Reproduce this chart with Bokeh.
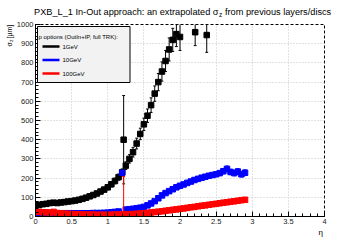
from bokeh.plotting import figure
from bokeh.models import Range1d, FixedTicker, Label, BoxAnnotation, PrintfTickFormatter
from bokeh.embed import file_html
from bokeh.resources import INLINE

# ---------------- data ----------------
series_names = ["1GeV", "10GeV", "100GeV"]
series_colors = ["#000000", "#0000ff", "#ff0000"]
legend_header = "p options (OutIn+IP, full TRK):"
title_left = "PXB_L_1 In-Out approach: an extrapolated σ"
title_sub = "z"
title_right = "from previous layers/discs"
x_title = "η"
y_title_main = "σ"
y_title_sub = "z"
y_title_unit = "[µm]"

x_ticks = [0, 0.5, 1, 1.5, 2, 2.5, 3, 3.5, 4]
y_ticks = [0, 100, 200, 300, 400, 500, 600, 700, 800, 900, 1000]

eta_1gev = [0.00, 0.05, 0.10, 0.15, 0.20, 0.25, 0.30, 0.35, 0.40, 0.45, 0.50, 0.55, 0.60,
            0.65, 0.70, 0.75, 0.80, 0.85, 0.90, 0.95, 1.00, 1.05, 1.10, 1.15, 1.20, 1.22,
            1.25, 1.30, 1.35, 1.40, 1.45, 1.50, 1.55, 1.60, 1.65, 1.70, 1.75, 1.80, 1.85,
            1.90, 1.95, 2.00, 2.21, 2.37]
sig_1gev = [62, 60, 64, 66, 70, 72, 70, 73, 75, 78, 80, 83, 87, 92, 98, 105, 112, 120, 130,
            140, 152, 168, 185, 205, 230, 400, 265, 300, 335, 380, 430, 480, 525, 580, 640,
            700, 755, 810, 870, 920, 950, 935, 960, 945]
err_1gev = [6, 6, 6, 6, 6, 6, 6, 6, 7, 7, 7, 8, 8, 8, 9, 9, 10, 10, 11, 12, 13, 14, 15, 16, 18,
            230, 20, 22, 25, 28, 30, 32, 35, 38, 40, 45, 50, 55, 60, 60, 65, 70, 70, 90]

eta_10gev = [0.00, 0.05, 0.10, 0.15, 0.20, 0.25, 0.30, 0.35, 0.40, 0.45, 0.50, 0.55, 0.60,
             0.65, 0.70, 0.75, 0.80, 0.85, 0.90, 0.95, 1.00, 1.05, 1.10, 1.15, 1.20, 1.25,
             1.30, 1.35, 1.40, 1.45, 1.50, 1.55, 1.60, 1.65, 1.70, 1.75, 1.80, 1.85, 1.90,
             1.95, 2.00, 2.05, 2.10, 2.15, 2.20, 2.25, 2.30, 2.35, 2.40, 2.45, 2.50, 2.55,
             2.60, 2.65, 2.70, 2.75, 2.80, 2.85, 2.90]
sig_10gev = [22, 20, 19, 18, 18, 17, 17, 17, 17, 17, 17, 17, 17, 17, 17, 17, 18, 18, 18, 19,
             20, 22, 24, 26, 228, 36, 38, 40, 43, 46, 50, 58, 68, 80, 95, 110, 122, 132, 142,
             152, 160, 167, 175, 182, 190, 196, 202, 207, 212, 216, 220, 226, 236, 248, 232,
             226, 234, 220, 228]
err_10gev = [3, 3, 3, 3, 3, 3, 3, 3, 3, 3, 3, 3, 3, 3, 3, 3, 3, 3, 3, 3, 4, 4, 4, 4, 8, 5, 5,
             5, 5, 6, 6, 6, 7, 7, 8, 8, 8, 8, 9, 9, 9, 10, 10, 10, 10, 11, 11, 11, 12, 12, 12,
             13, 14, 15, 14, 14, 15, 14, 15]

eta_100gev = [0.00, 0.05, 0.10, 0.15, 0.20, 0.25, 0.30, 0.35, 0.40, 0.45, 0.50, 0.55, 0.60,
              0.65, 0.70, 0.75, 0.80, 0.85, 0.90, 0.95, 1.00, 1.05, 1.10, 1.15, 1.20, 1.22,
              1.25, 1.30, 1.35, 1.40, 1.45, 1.50, 1.55, 1.60, 1.65, 1.70, 1.75, 1.80, 1.85,
              1.90, 1.95, 2.00, 2.05, 2.10, 2.15, 2.20, 2.25, 2.30, 2.35, 2.40, 2.45, 2.50,
              2.55, 2.60, 2.65, 2.70, 2.75, 2.80, 2.85, 2.90]
sig_100gev = [25, 24, 22, 22, 20, 24, 18, 17, 15, 14, 13, 12, 12, 11, 10, 10, 10, 9, 9, 9, 9,
              9, 10, 10, 10, 8, 11, 12, 13, 14, 15, 17, 19, 21, 23, 25, 27, 30, 32, 35, 37, 40,
              42, 45, 48, 50, 53, 56, 58, 61, 64, 66, 69, 72, 74, 77, 79, 82, 85, 87]
err_100gev = [3, 3, 3, 3, 3, 3, 3, 3, 3, 3, 3, 3, 3, 3, 3, 3, 3, 3, 3, 3, 3, 3, 3, 3, 3, 200,
              3, 3, 3, 3, 3, 3, 3, 3, 3, 3, 3, 3, 3, 3, 3, 3, 3, 3, 3, 3, 3, 3, 3, 3, 3, 3, 3,
              3, 3, 3, 3, 3, 3, 3]

all_eta = [eta_1gev, eta_10gev, eta_100gev]
all_sig = [sig_1gev, sig_10gev, sig_100gev]
all_err = [err_1gev, err_10gev, err_100gev]

# ---------------- figure ----------------
p = figure(width=360, height=240, x_range=Range1d(0, 4), y_range=Range1d(0, 1000),
           output_backend="svg", toolbar_location=None, title=None,
           min_border_left=35, min_border_right=36, min_border_top=24, min_border_bottom=24)
p.background_fill_color = "white"
p.border_fill_color = "white"
p.outline_line_color = "black"
p.outline_line_width = 1
p.outline_line_dash = "3 2"

p.xaxis.ticker = FixedTicker(ticks=x_ticks, minor_ticks=[i * 0.1 for i in range(41)])
p.yaxis.ticker = FixedTicker(ticks=y_ticks, minor_ticks=[i * 20 for i in range(51)])
p.xaxis.formatter = PrintfTickFormatter(format="%g")
p.yaxis.formatter = PrintfTickFormatter(format="%g")
for ax in (p.xaxis[0], p.yaxis[0]):
    ax.major_tick_in = 5
    ax.major_tick_out = 0
    ax.minor_tick_in = 3
    ax.minor_tick_out = 0
    ax.axis_line_color = "black"
    ax.major_tick_line_color = "black"
    ax.minor_tick_line_color = "black"
    ax.major_label_text_font = "Liberation Sans"
    ax.major_label_text_font_size = "7.5px"
    ax.major_label_text_color = "#222222"
    ax.major_label_standoff = 2

for g in (p.xgrid[0], p.ygrid[0]):
    g.grid_line_color = "#c4c4c4"
    g.grid_line_dash = "1 2"
    g.grid_line_width = 1

# ---------------- data glyphs ----------------
for eta, sig, err, col in zip(all_eta, all_sig, all_err, series_colors):
    lo = [s - e for s, e in zip(sig, err)]
    hi = [s + e for s, e in zip(sig, err)]
    p.segment(x0=eta, y0=lo, x1=eta, y1=hi, line_color=col, line_width=1)
    p.segment(x0=[x - 0.02 for x in eta], y0=hi, x1=[x + 0.02 for x in eta], y1=hi,
              line_color=col, line_width=1)
    p.segment(x0=[x - 0.02 for x in eta], y0=lo, x1=[x + 0.02 for x in eta], y1=lo,
              line_color=col, line_width=1)
    p.scatter(x=eta, y=sig, marker="square", size=5.5, fill_color=col, line_color=col)

# ---------------- texts outside the frame ----------------
# placed in side panels (so they are not clipped), positioned in canvas px (top-left origin)
FONT = "Liberation Sans"

def add_label(side, x, y, text, size, align="left", baseline="alphabetic", angle=0.0):
    p.add_layout(Label(x=x, y=y, x_units="canvas", y_units="canvas", text=text,
                       text_align=align, text_baseline=baseline, angle=angle,
                       text_font=FONT, text_font_size=size, text_color="black"), side)

add_label("above", 218, 11, title_left, "9.2px", align="right")
add_label("above", 224.5, 11, title_right, "9.2px")
add_label("right", 218.5, 13.5, title_sub, "6.5px")
add_label("below", 318, 232, x_title, "8px", baseline="middle")
add_label("right", 9, 46, y_title_main, "7px", angle=1.5708)
add_label("right", 10.5, 41.5, y_title_sub, "5px", angle=1.5708)
add_label("right", 9, 38, y_title_unit, "7px", angle=1.5708)

# ---------------- legend (ROOT style box, frame-relative px) ----------------
p.add_layout(BoxAnnotation(left=2, right=94.5, bottom=134, top=190,
                           left_units="screen", right_units="screen",
                           bottom_units="screen", top_units="screen",
                           fill_color="#f2f2f2", fill_alpha=1.0,
                           line_color="black", line_width=1, line_alpha=1.0))
p.add_layout(Label(x=3, y=180, x_units="screen", y_units="screen", text=legend_header,
                   text_align="left", text_baseline="alphabetic", text_font=FONT,
                   text_font_size="6px", text_color="black"))
for i, (name, col) in enumerate(zip(series_names, series_colors)):
    yc = 170 - i * 13.5
    p.add_layout(BoxAnnotation(left=7, right=24, bottom=yc - 1.25, top=yc + 1.25,
                               left_units="screen", right_units="screen",
                               bottom_units="screen", top_units="screen",
                               fill_color=col, fill_alpha=1.0, line_alpha=0))
    p.add_layout(Label(x=27, y=yc, x_units="screen", y_units="screen", text=name,
                       text_align="left", text_baseline="middle", text_font=FONT,
                       text_font_size="6px", text_color="black"))

open("out.html", "w").write(file_html(p, INLINE))
